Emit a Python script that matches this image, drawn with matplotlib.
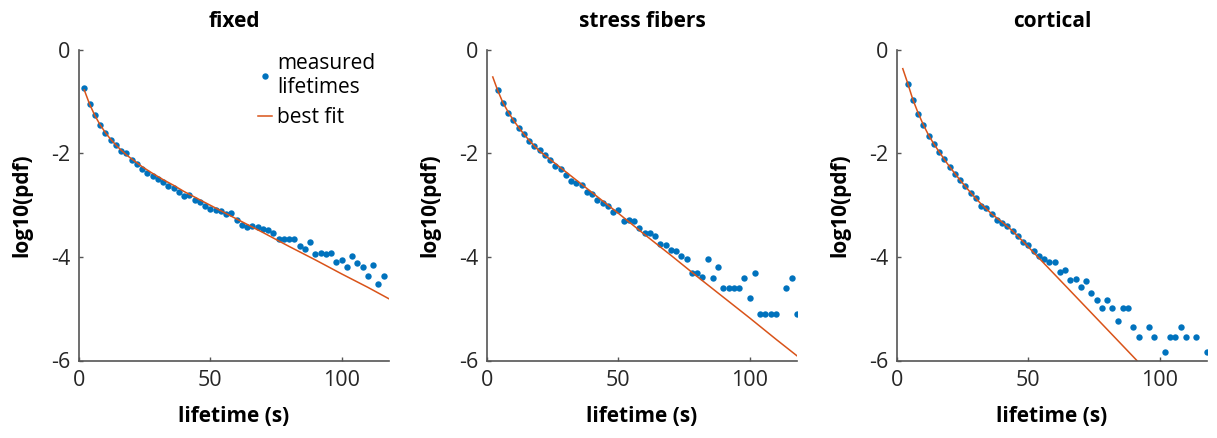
import numpy as np
import matplotlib
matplotlib.use("Agg")
import matplotlib.pyplot as plt

plt.rcParams['font.family'] = ['Open Sans', 'DejaVu Sans']
plt.rcParams['axes.unicode_minus'] = False

# histogram bins (s)
t_fixed = [2, 4, 6, 8, 10, 12, 14, 16, 18, 20, 22, 24, 26, 28, 30, 32, 34, 36, 38, 40,
           42, 44, 46, 48, 50, 52, 54, 56, 58, 60, 62, 64, 66, 68, 70, 72, 74, 76, 78, 80,
           82, 84, 86, 88, 90, 92, 94, 96, 98, 100, 102, 104, 106, 108, 110, 112, 114, 116]
t_other = [4, 6, 8, 10, 12, 14, 16, 18, 20, 22, 24, 26, 28, 30, 32, 34, 36, 38, 40, 42,
           44, 46, 48, 50, 52, 54, 56, 58, 60, 62, 64, 66, 68, 70, 72, 74, 76, 78, 80, 82,
           84, 86, 88, 90, 92, 94, 96, 98, 100, 102, 104, 106, 108, 110, 112, 114, 116, 118]

# measured log10(pdf), nan = empty bin
pdf_fixed = [-0.74, -1.05, -1.26, -1.45, -1.61, -1.74, -1.84, -1.95, -2.00, -2.13,
             -2.20, -2.30, -2.38, -2.45, -2.50, -2.56, -2.64, -2.68, -2.74, -2.83,
             -2.81, -2.90, -2.95, -3.02, -3.08, -3.10, -3.12, -3.18, -3.16, -3.29,
             -3.39, -3.43, -3.40, -3.43, -3.46, -3.48, -3.54, -3.65, -3.65, -3.65,
             -3.65, -3.79, -3.84, -3.72, -3.94, -3.92, -3.95, -3.92, -4.10, -4.06,
             -4.19, -3.98, -4.11, -4.19, -4.37, -4.15, -4.53, -4.37]
pdf_stress = [-0.79, -1.03, -1.22, -1.36, -1.51, -1.63, -1.76, -1.87, -1.94, -2.03,
              -2.14, -2.25, -2.30, -2.42, -2.54, -2.57, -2.62, -2.75, -2.78, -2.91,
              -2.97, -3.02, -3.13, -3.09, -3.31, -3.28, -3.31, -3.44, -3.54, -3.54,
              -3.60, -3.75, -3.78, -3.86, -3.88, -3.98, -4.05, -4.31, -4.31, -4.39,
              -4.05, -4.40, -4.20, -4.61, -4.61, -4.61, -4.61, -4.40, -4.80, -4.31,
              -5.10, -5.10, -5.10, -5.10, np.nan, -4.61, -4.40, -5.10]
pdf_cortical = [-0.66, -0.98, -1.24, -1.46, -1.66, -1.83, -1.98, -2.12, -2.27, -2.41,
                -2.52, -2.64, -2.77, -2.87, -3.01, -3.06, -3.17, -3.28, -3.35, -3.40,
                -3.50, -3.60, -3.71, -3.78, -3.88, -3.99, -4.04, -4.10, -4.10, -4.29,
                -4.26, -4.44, -4.42, -4.58, -4.47, -4.69, -4.84, -4.99, -4.84, -4.99,
                -5.23, -4.99, -4.99, -5.36, -5.54, np.nan, -5.36, -5.54, np.nan, -5.84,
                -5.54, -5.54, -5.36, -5.54, np.nan, -5.54, np.nan, -5.84]

# best fit curves
fit_t_fixed = [2, 4, 6, 8, 10, 12, 14, 16, 18, 20, 24, 28, 32, 36, 40, 46, 60, 70, 80, 90, 100, 110, 118]
fit_fixed = [-0.78, -1.05, -1.27, -1.45, -1.60, -1.73, -1.84, -1.94, -2.03, -2.11, -2.26, -2.39,
             -2.51, -2.62, -2.74, -2.90, -3.27, -3.53, -3.80, -4.06, -4.33, -4.59, -4.81]
fit_t_stress = [2.2, 4, 6, 8, 10, 12, 14, 16, 18, 20, 24, 28, 32, 36, 40, 50, 60, 70, 80, 90, 100, 110, 118]
fit_stress = [-0.53, -0.78, -1.02, -1.20, -1.36, -1.50, -1.63, -1.75, -1.86, -1.96, -2.12, -2.28,
              -2.44, -2.60, -2.76, -3.16, -3.57, -3.97, -4.38, -4.78, -5.18, -5.59, -5.91]
fit_t_cortical = [2.2, 4, 6, 8, 10, 12, 14, 16, 18, 20, 24, 28, 32, 36, 40, 44, 50, 60, 70, 80, 91.3]
fit_cortical = [-0.37, -0.64, -0.96, -1.22, -1.45, -1.65, -1.82, -1.97, -2.12, -2.26, -2.52, -2.76,
                -2.98, -3.17, -3.33, -3.50, -3.81, -4.34, -4.87, -5.40, -6.00]

titles = ['fixed', 'stress fibers', 'cortical']
panels = [(t_fixed, pdf_fixed, fit_t_fixed, fit_fixed),
          (t_other, pdf_stress, fit_t_stress, fit_stress),
          (t_other, pdf_cortical, fit_t_cortical, fit_cortical)]

blue = '#0072BD'
orange = '#D95319'
axcol = '#262626'

fig = plt.figure(figsize=(12.17, 4.38), dpi=100)
lefts = [79, 487, 897]
for i, (left, ttl, (t, pdf, ft, fv)) in enumerate(zip(lefts, titles, panels)):
    ax = fig.add_axes([left / 1217, 77.5 / 438, 310 / 1217, 311 / 438])
    ax.plot(t, pdf, 'o', color=blue, markersize=4.6, markeredgewidth=0, label='measured\nlifetimes')
    ax.plot(ft, fv, '-', color=orange, linewidth=1.1, label='best fit')
    ax.set_xlim(0, 118)
    ax.set_ylim(-6, 0)
    ax.set_xticks([0, 50, 100])
    ax.set_yticks([-6, -4, -2, 0])
    for s in ['top', 'right']:
        ax.spines[s].set_visible(False)
    for s in ['left', 'bottom']:
        ax.spines[s].set_color('#555555')
        ax.spines[s].set_linewidth(1.2)
    ax.tick_params(direction='in', length=3, width=1, colors='#555555',
                   labelcolor=axcol, labelsize=15.5)
    ax.tick_params(axis='x', pad=7)
    ax.tick_params(axis='y', pad=6)
    ax.set_title(ttl, fontsize=15, fontweight='bold', pad=16)
    ax.set_xlabel('lifetime (s)', fontsize=15, fontweight='bold', labelpad=11)
    ax.set_ylabel('log10(pdf)', fontsize=15, fontweight='bold', labelpad=14)
    if i == 0:
        ax.legend(frameon=False, loc='upper left', bbox_to_anchor=(0.577, 0.99),
                  fontsize=15, handlelength=0.68, handletextpad=0.25, labelspacing=0.45,
                  borderaxespad=0, borderpad=0)

fig.savefig('out.png', dpi=100)
